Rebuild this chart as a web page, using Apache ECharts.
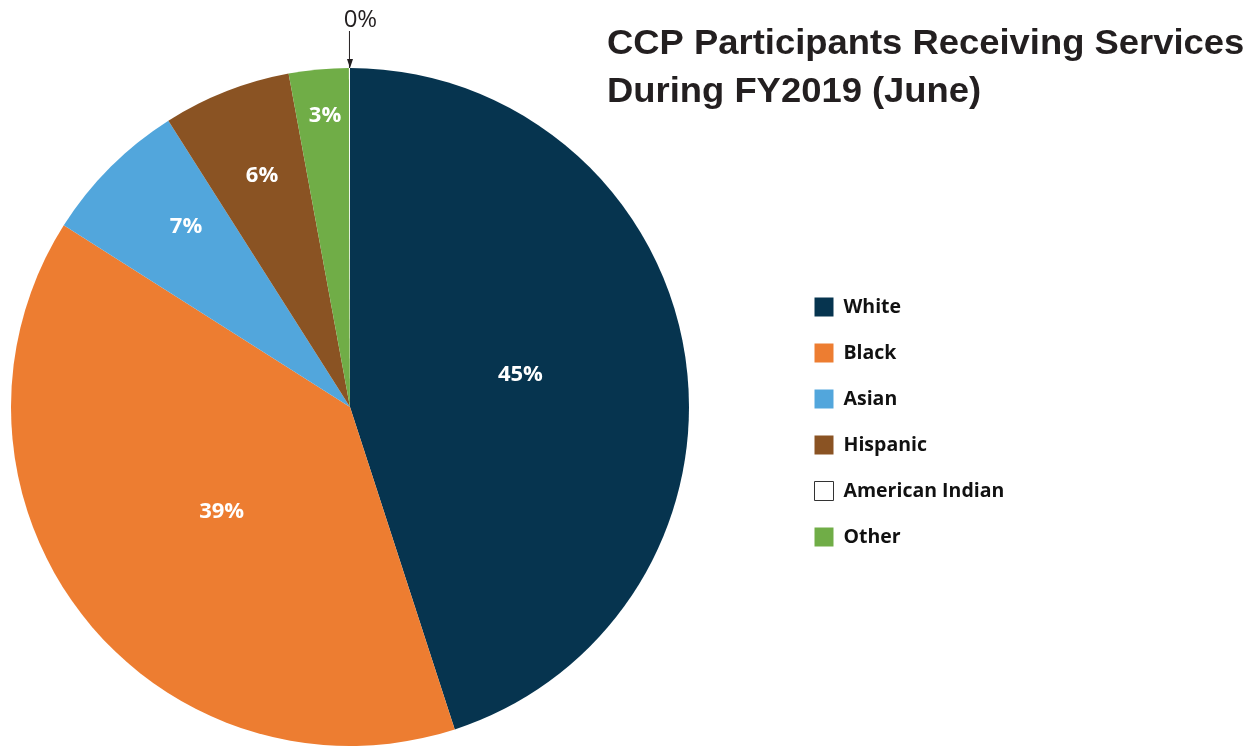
<!DOCTYPE html>
<html>
<head>
<meta charset="utf-8">
<script src="https://cdn.jsdelivr.net/npm/echarts@6/dist/echarts.min.js"></script>
<style>html,body{margin:0;padding:0;background:#fff}#c{width:1251px;height:746px}</style>
</head>
<body>
<div id="c"></div>
<script>
// Data (percent of participants)
const legendNames = ['White', 'Black', 'Asian', 'Hispanic', 'American Indian', 'Other'];
const sliceNames  = ['White', 'Black', 'Asian', 'Hispanic', 'Other', 'American Indian'];
const sliceValues = [45.0, 39.0, 7.0, 6.1, 2.85, 0.05];
const titleLines = ['CCP Participants Receiving Services', 'During FY2019 (June)'];

const colors = {
  'White': '#06344f',
  'Black': '#ed7d31',
  'Asian': '#52a6dc',
  'Hispanic': '#8a5323',
  'American Indian': '#ffffff',
  'Other': '#70ad47'
};
// label nudges (style only)
const labelNudge = { 'White': [0, -5], 'Black': [8, -1], 'Asian': [-42, -58], 'Hispanic': [-25, -71], 'Other': [-9, -120] };
const pieCenter = [350, 407];
const pieRadius = 339;

const chart = echarts.init(document.getElementById('c'), null, { renderer: 'canvas' });
const seriesData = sliceNames.map((n, i) => {
  const item = { name: n, value: sliceValues[i], itemStyle: { color: colors[n] } };
  if (n === 'American Indian') {
    item.label = { position: 'outside', color: '#231f20', fontWeight: 'normal', fontSize: 24 };
    item.labelLine = { show: true, length: 37, length2: 0, lineStyle: { color: '#231f20', width: 1 } };
  }
  return item;
});

const titleFont = 'bold 35px "Liberation Sans"';
const arrowTip = [pieCenter[0], pieCenter[1] - pieRadius];
chart.setOption({
  animation: false,
  graphic: titleLines.map((t, i) => ({
    type: 'text',
    x: 607, y: 44 + i * 48,
    scaleX: 1.04, scaleY: 1,
    style: { text: t, font: titleFont, fill: '#231f20', textAlign: 'left', textVerticalAlign: 'middle' }
  })).concat([{
    type: 'polygon',
    z: 100,
    shape: { points: [[arrowTip[0], arrowTip[1]], [arrowTip[0] - 3, arrowTip[1] - 9], [arrowTip[0] + 3, arrowTip[1] - 9]] },
    style: { fill: '#231f20' }
  }]),
  legend: {
    orient: 'vertical',
    left: 814, top: 297,
    padding: 0,
    itemWidth: 19, itemHeight: 19, itemGap: 26,
    icon: 'rect',
    selectedMode: false,
    data: legendNames.map(n => n === 'American Indian'
      ? { name: n, itemStyle: { color: '#ffffff', borderColor: '#333333', borderWidth: 1 } }
      : { name: n }),
    textStyle: { fontFamily: 'Open Sans', fontWeight: 'bold', fontSize: 19.5, lineHeight: 19, color: '#111111', padding: [0, 0, 0, 5] }
  },
  series: [{
    type: 'pie',
    center: pieCenter,
    radius: pieRadius,
    startAngle: 90,
    clockwise: true,
    avoidLabelOverlap: false,
    itemStyle: { borderWidth: 0 },
    label: {
      show: true, position: 'inside',
      formatter: p => Math.round(p.value) + '%',
      color: '#ffffff', fontFamily: 'Open Sans', fontWeight: 'bold', fontSize: 22
    },
    labelLine: { show: false },
    labelLayout: function (p) {
      const name = sliceNames[p.dataIndex];
      if (name === 'American Indian' && p.labelLinePoints) {
        const pts = p.labelLinePoints;
        const start = pts[0];
        const end = pts[pts.length - 1];
        return {
          x: end[0] + 11, y: end[1] + 1, align: 'center', verticalAlign: 'bottom',
          labelLinePoints: [[start[0], start[1]], [start[0], end[1]], [start[0], end[1]]]
        };
      }
      if (labelNudge[name]) return { dx: labelNudge[name][0], dy: labelNudge[name][1] };
      return {};
    },
    data: seriesData
  }]
});
</script>
</body>
</html>
